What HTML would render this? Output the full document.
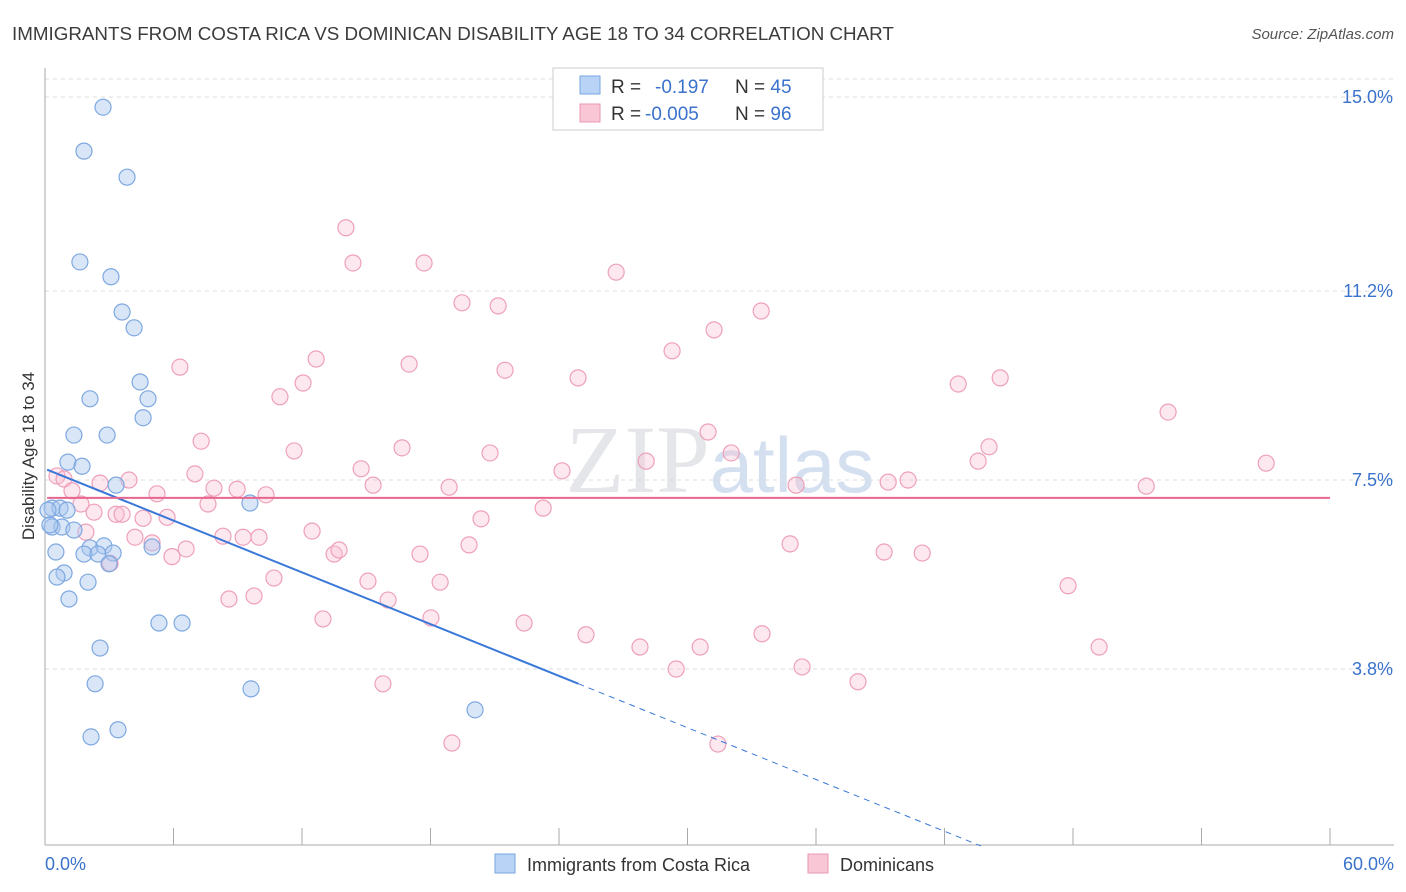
<!DOCTYPE html>
<html><head><meta charset="utf-8"><style>
body{margin:0;background:#fff;font-family:"Liberation Sans",sans-serif;}
svg{display:block}
</style></head><body>
<svg id="chart" width="1406" height="892">
<text x="12" y="40" font-size="18.8" fill="#3c3c3c">IMMIGRANTS FROM COSTA RICA VS DOMINICAN DISABILITY AGE 18 TO 34 CORRELATION CHART</text>
<text x="1394" y="39" font-size="15" fill="#555" font-style="italic" text-anchor="end">Source: ZipAtlas.com</text>
<text x="720" y="492" font-size="96" fill="#e4e6ea" text-anchor="middle" font-family="Liberation Serif">ZIP<tspan fill="#d4e0f0" font-family="Liberation Sans" font-size="78">atlas</tspan></text>
<text transform="translate(34,456) rotate(-90)" font-size="17" fill="#333" text-anchor="middle">Disability Age 18 to 34</text>
<g id="grid"></g><g id="marks"></g>
<g>
<rect x="553" y="68" width="270" height="62" fill="#fff" stroke="#ccc"/>
<rect x="580" y="76" width="20" height="18" fill="#b8d3f5" stroke="#7aa7e0"/>
<rect x="580" y="104" width="20" height="18" fill="#f9c6d6" stroke="#e898b2"/>
<text x="611" y="93" font-size="19" fill="#333">R = <tspan fill="#3a72cc" x="655">-0.197</tspan><tspan x="735" fill="#333">N = </tspan><tspan fill="#3a72cc">45</tspan></text>
<text x="611" y="120" font-size="19" fill="#333">R = <tspan fill="#3a72cc" x="645">-0.005</tspan><tspan x="735" fill="#333">N = </tspan><tspan fill="#3a72cc">96</tspan></text>
</g>
<g>
<rect x="495" y="854" width="20" height="19" fill="#b8d3f5" stroke="#7aa7e0"/>
<text x="527" y="871" font-size="18" fill="#333">Immigrants from Costa Rica</text>
<rect x="808" y="854" width="20" height="19" fill="#f9c6d6" stroke="#e898b2"/>
<text x="840" y="871" font-size="18" fill="#333">Dominicans</text>
</g>
</svg>
<script>
const yTicks=[15.0,11.2,7.5,3.8];
const yTickLabels=["15.0%","11.2%","7.5%","3.8%"];
const xTickCount=10;
const xLabels=["0.0%","60.0%"];
const blueX=[2.71,1.82,3.83,1.63,3.08,3.60,4.16,4.44,2.10,4.81,4.58,1.35,2.90,1.07,1.73,3.32,9.57,0.33,0.70,1.03,0.33,0.79,1.35,0.51,2.10,2.75,1.82,2.47,3.18,2.99,5.00,0.89,0.56,2.01,1.12,5.32,6.40,2.57,2.34,9.62,20.08,2.15,3.41,0.14,0.23];
const blueY=[14.80,13.94,13.43,11.77,11.48,10.79,10.48,9.42,9.09,9.09,8.72,8.38,8.38,7.85,7.77,7.40,7.05,6.95,6.95,6.91,6.58,6.58,6.52,6.09,6.17,6.21,6.05,6.05,6.07,5.86,6.19,5.68,5.60,5.50,5.17,4.70,4.70,4.21,3.51,3.41,3.00,2.47,2.61,6.91,6.62];
const pinkX=[14.05,14.38,17.70,26.67,19.47,21.16,33.44,31.24,29.28,12.66,6.30,17.00,21.48,12.05,24.89,42.64,44.60,10.97,52.44,30.96,7.29,16.67,11.63,20.78,32.04,43.57,44.08,28.07,57.02,14.76,24.14,7.00,3.92,0.56,0.89,2.57,15.32,18.87,35.07,39.37,40.30,51.42,7.89,8.97,1.26,5.23,10.32,7.61,23.26,1.68,2.29,3.32,3.60,4.58,5.70,20.36,12.47,8.31,9.25,9.99,4.20,1.91,5.00,19.80,34.79,6.59,13.50,13.73,17.51,39.18,40.96,5.93,3.04,10.69,15.08,18.45,47.77,9.76,8.59,16.02,12.98,18.02,22.37,25.26,27.78,30.59,33.48,49.22,29.47,35.35,37.96,15.78,19.00,31.42];
const pinkY=[12.44,11.75,11.75,11.57,10.97,10.91,10.81,10.44,10.03,9.87,9.71,9.77,9.65,9.40,9.50,9.38,9.50,9.13,8.83,8.44,8.26,8.13,8.07,8.03,8.03,7.87,8.15,7.87,7.83,7.72,7.68,7.62,7.50,7.58,7.52,7.44,7.40,7.36,7.40,7.46,7.50,7.38,7.34,7.32,7.29,7.23,7.21,7.03,6.95,7.03,6.87,6.83,6.83,6.75,6.77,6.74,6.50,6.40,6.38,6.38,6.38,6.48,6.27,6.23,6.25,6.15,6.05,6.13,6.05,6.09,6.07,6.00,5.87,5.58,5.52,5.50,5.43,5.23,5.17,5.15,4.78,4.80,4.70,4.47,4.23,4.23,4.49,4.23,3.80,3.84,3.55,3.51,2.35,2.33];
const blueTrend=[7.72,-0.169];
const pinkTrend=[7.15,0];
const xs=v=>45+v/60*1285;
const ys=v=>97+(15-v)*51.07;
const NS="http://www.w3.org/2000/svg";
function mk(tag,attrs,parent){const e=document.createElementNS(NS,tag);for(const k in attrs)e.setAttribute(k,attrs[k]);parent.appendChild(e);return e;}
const grid=document.getElementById('grid'),marks=document.getElementById('marks');
yTicks.forEach((t,i)=>{
 const l=mk('line',{x1:45,x2:1394,y1:ys(t),y2:ys(t),stroke:'#ddd','stroke-dasharray':'4,4'},grid);
 
 
 const tx=mk('text',{x:1393,y:ys(t)+6,'font-size':18,fill:'#3a72cc','text-anchor':'end'},grid);
 tx.textContent=yTickLabels[i];
 
 
});
mk('line',{x1:45,x2:1394,y1:79,y2:79,stroke:'#ddd','stroke-dasharray':'4,4'},grid);
const ya=mk('line',{x1:45,x2:45,y1:68,y2:845,stroke:'#aaa'},grid);


const xa=mk('line',{x1:45,x2:1394,y1:845,y2:845,stroke:'#aaa'},grid);


for(let i=1;i<=xTickCount;i++){const v=i*60/xTickCount;const t=mk('line',{x1:xs(v),x2:xs(v),y1:828,y2:845,stroke:'#aaa'},grid);
 
 }
const xl0=mk('text',{x:45,y:870,'font-size':18,fill:'#3a72cc'},grid);xl0.textContent=xLabels[0];


const xl1=mk('text',{x:1394,y:870,'font-size':18,fill:'#3a72cc','text-anchor':'end'},grid);xl1.textContent=xLabels[1];


pinkX.forEach((x,i)=>{const c=mk('circle',{cx:xs(x),cy:ys(pinkY[i]),r:8,fill:'rgba(248,190,210,0.35)',stroke:'#eea0ba','stroke-width':1.2},marks);
 
 });
blueX.forEach((x,i)=>{const c=mk('circle',{cx:xs(x),cy:ys(blueY[i]),r:8,fill:'rgba(170,200,240,0.45)',stroke:'#7ea8e0','stroke-width':1.2},marks);
 
 });
const bf=x=>blueTrend[0]+blueTrend[1]*x;
const b1=mk('line',{x1:xs(0.1),y1:ys(bf(0.1)),x2:xs(24.9),y2:ys(bf(24.9)),stroke:'#3a78d8','stroke-width':2},marks);


const b2=mk('line',{x1:xs(24.9),y1:ys(bf(24.9)),x2:xs(43.7),y2:ys(bf(43.7)),stroke:'#3a78d8','stroke-width':1,'stroke-dasharray':'6,5'},marks);


const p1=mk('line',{x1:xs(0.1),y1:ys(pinkTrend[0]),x2:xs(60),y2:ys(pinkTrend[0]+pinkTrend[1]*60),stroke:'#e8668e','stroke-width':2},marks);


</script>
</body></html>
